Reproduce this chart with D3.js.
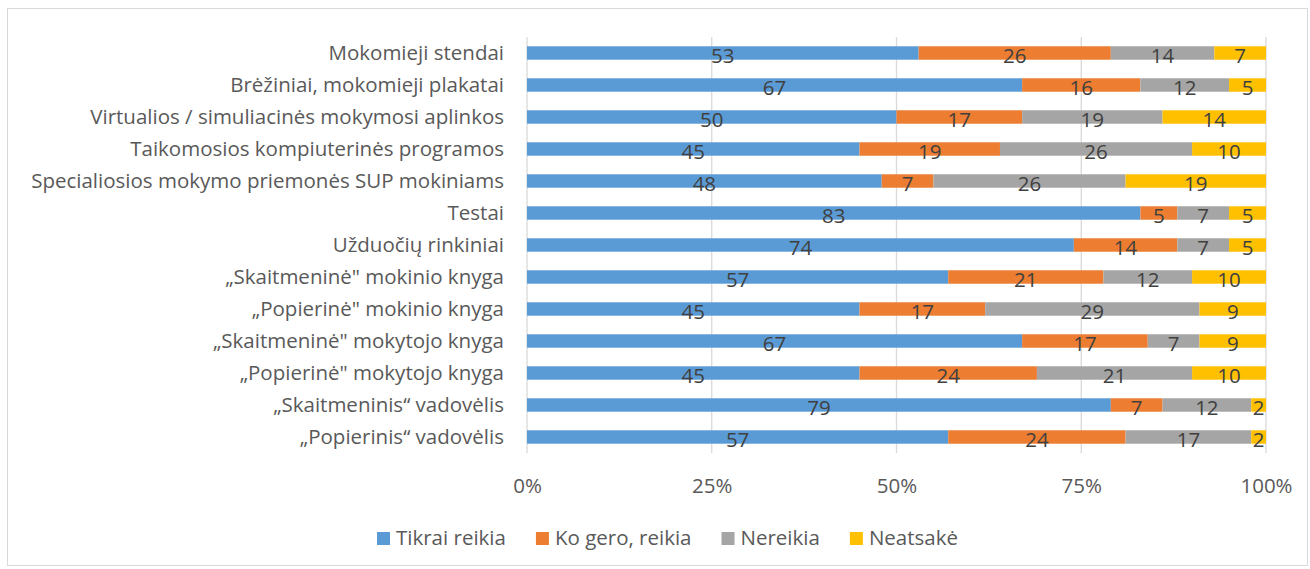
<!DOCTYPE html>
<html><head><meta charset="utf-8">
<script src="https://cdn.jsdelivr.net/npm/d3@7"></script>
<style>body{margin:0;background:#fff}svg{display:block}</style>
</head><body>
<svg id="chart" width="1310" height="569"></svg>
<script>
const categories = [
  "Mokomieji stendai",
  "Brėžiniai, mokomieji plakatai",
  "Virtualios / simuliacinės mokymosi aplinkos",
  "Taikomosios kompiuterinės programos",
  "Specialiosios mokymo priemonės SUP mokiniams",
  "Testai",
  "Užduočių rinkiniai",
  "„Skaitmeninė\" mokinio knyga",
  "„Popierinė\" mokinio knyga",
  "„Skaitmeninė\" mokytojo knyga",
  "„Popierinė\" mokytojo knyga",
  "„Skaitmeninis“ vadovėlis",
  "„Popierinis“ vadovėlis"
];
const seriesNames = ["Tikrai reikia", "Ko gero, reikia", "Nereikia", "Neatsakė"];
const tikraiReikia = [53, 67, 50, 45, 48, 83, 74, 57, 45, 67, 45, 79, 57];
const koGeroReikia = [26, 16, 17, 19, 7, 5, 14, 21, 17, 17, 24, 7, 24];
const nereikia     = [14, 12, 19, 26, 26, 7, 7, 12, 29, 7, 21, 12, 17];
const neatsake     = [7, 5, 14, 10, 19, 5, 5, 10, 9, 9, 10, 2, 2];
const tickValues = [0, 0.25, 0.5, 0.75, 1];
const colors = ["#5B9BD5", "#ED7D31", "#A5A5A5", "#FFC000"];

const svg = d3.select("#chart");
const W = 1310, H = 569;
const font = "'Open Sans', 'Noto Sans', sans-serif";

svg.append("rect").attr("x", 7.5).attr("y", 8.5).attr("width", W - 10).attr("height", H - 12)
  .attr("fill", "#fff").attr("stroke", "#d9d9d9");

const m = {left: 527, right: 1266, top: 37, bottom: 453};
const data = categories.map((c, i) => ({cat: c, "Tikrai reikia": tikraiReikia[i], "Ko gero, reikia": koGeroReikia[i], "Nereikia": nereikia[i], "Neatsakė": neatsake[i]}));
const series = d3.stack().keys(seriesNames).offset(d3.stackOffsetExpand)(data);

const x = d3.scaleLinear().domain([0, 1]).range([m.left, m.right]);
const y = d3.scaleBand().domain(categories).range([m.top, m.bottom]).paddingInner(0.58).paddingOuter(0.29);
const color = d3.scaleOrdinal().domain(seriesNames).range(colors);

// gridlines
svg.append("g").selectAll("line").data(tickValues).join("line")
  .attr("x1", d => x(d)).attr("x2", d => x(d)).attr("y1", m.top).attr("y2", m.bottom)
  .attr("stroke", "#d9d9d9").attr("stroke-width", 1.3);

// bars
const g = svg.append("g");
series.forEach(s => {
  g.append("g").attr("fill", color(s.key)).selectAll("rect").data(s).join("rect")
    .attr("x", d => x(d[0])).attr("width", d => x(d[1]) - x(d[0]))
    .attr("y", d => y(d.data.cat)).attr("height", y.bandwidth());
});
// labels
series.forEach(s => {
  g.append("g").selectAll("text").data(s).join("text")
    .attr("x", d => (x(d[0]) + x(d[1])) / 2)
    .attr("y", d => y(d.data.cat) + y.bandwidth() / 2 + 9.5)
    .attr("text-anchor", "middle")
    .attr("font-family", font).attr("font-size", 20.5).attr("fill", "#404040")
    .text(d => d.data[s.key]);
});

// y axis labels
const yAxis = d3.axisLeft(y).tickSize(0).tickPadding(24);
const ya = svg.append("g").attr("transform", `translate(${m.left},0)`).call(yAxis);
ya.select(".domain").remove();
ya.selectAll("text").attr("font-family", font).attr("font-size", 20.5).attr("fill", "#595959")
  .attr("dy", 0).attr("y", 7).attr("x", -23);

// x axis
const xAxis = d3.axisBottom(x).tickValues(tickValues).tickFormat(d3.format(".0%")).tickSize(0);
const xa = svg.append("g").attr("transform", `translate(0,${m.bottom})`).call(xAxis);
xa.select(".domain").remove();
xa.selectAll("text").attr("font-family", font).attr("font-size", 20.5).attr("fill", "#595959")
  .attr("dy", 0).attr("y", 40);

// legend
const leg = svg.append("g");
let lx = 377;
seriesNames.forEach((name, i) => {
  const it = leg.append("g").attr("transform", `translate(${lx},0)`);
  it.append("rect").attr("x", 0).attr("y", 532).attr("width", 13).attr("height", 13).attr("fill", color(name));
  const t = it.append("text").attr("x", 19).attr("y", 545)
    .attr("font-family", font).attr("font-size", 20.5).attr("fill", "#595959").text(name);
  lx += 19 + t.node().getComputedTextLength() + 30;
});
</script>
</body></html>
